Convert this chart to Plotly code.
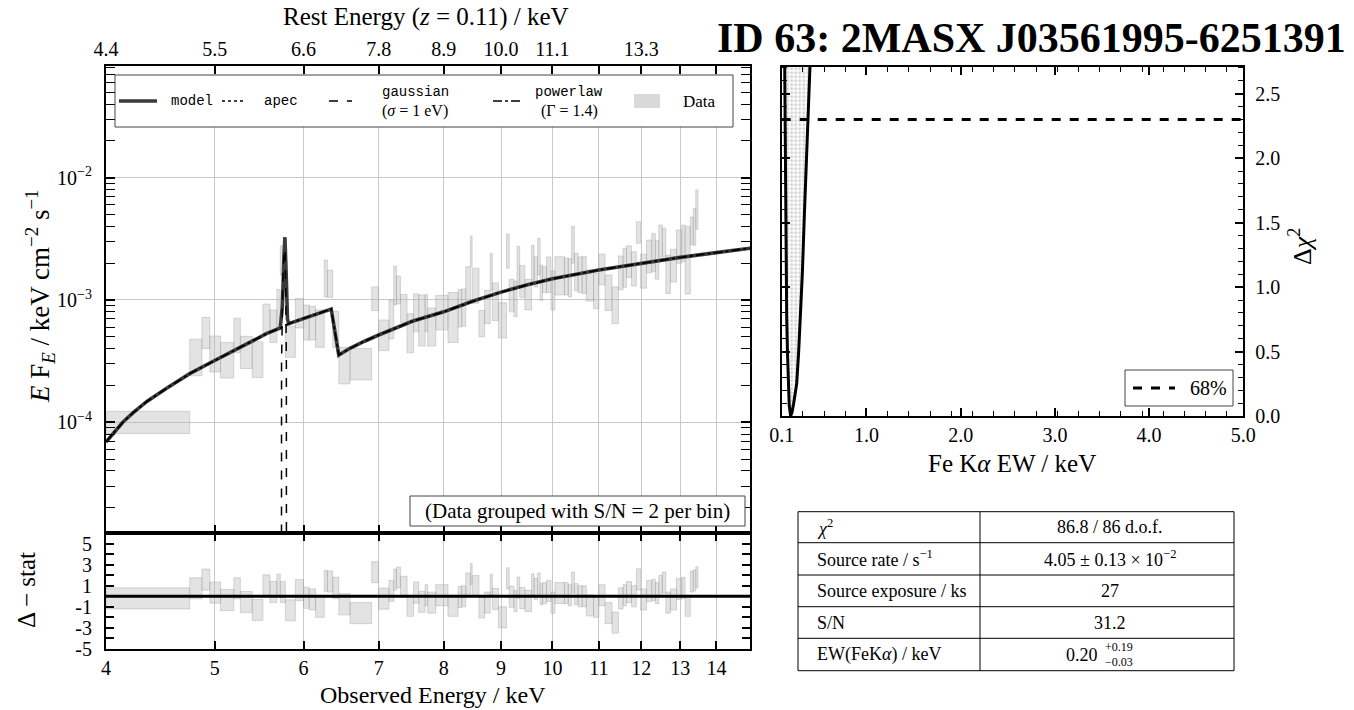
import math
import plotly.graph_objects as go

# ------------------------------------------------------------------ data
bin_edges = [4.0, 4.75, 4.87, 4.95, 5.06, 5.2, 5.27, 5.4, 5.52, 5.6, 5.68, 5.72, 5.78, 5.9, 6.0,
             6.07, 6.15, 6.26, 6.3, 6.37, 6.45, 6.6, 6.9, 7.0, 7.15, 7.22, 7.26, 7.32, 7.42, 7.52,
             7.6, 7.7, 7.74, 7.87, 8.07, 8.24, 8.3, 8.37, 8.45, 8.48, 8.6, 8.7, 8.8, 8.84, 8.95,
             9.1, 9.15, 9.24, 9.3, 9.35, 9.45, 9.58, 9.63, 9.7, 9.75, 9.8, 9.88, 9.97, 10.05, 10.25,
             10.33, 10.4, 10.46, 10.54, 10.63, 10.72, 10.88, 11.0, 11.14, 11.3, 11.45, 11.56, 11.64,
             11.76, 11.88, 11.98, 12.13, 12.26, 12.35, 12.44, 12.53, 12.62, 12.74, 12.9, 13.04,
             13.13, 13.27, 13.35, 13.42, 13.48]

flux = [1.02e-4, 3.59e-4, 5.6e-4, 3.83e-4, 3.4e-4, 5.4e-4, 3.9e-4, 3.44e-4, 7.34e-4, 6.4e-4,
        9.1e-4, 2.18e-3, 4.77e-4, 8.1e-4, 6.9e-4, 6.8e-4, 6.2e-4, 1.59e-3, 1.4e-3, 6.1e-4,
        3.08e-4, 3.12e-4, 1.05e-3, 5.36e-4, 7.4e-4, 1.4e-3, 1.25e-3, 8.8e-4, 5.7e-4, 8.35e-4,
        7.6e-4, 8.3e-4, 6.4e-4, 8.3e-4, 8.0e-4, 9.1e-4, 9.2e-4, 1.42e-3, 2.6e-3, 1.38e-3,
        6.6e-4, 9.2e-4, 1.8e-3, 1.03e-3, 7.2e-4, 2.64e-3, 1.14e-3, 1.08e-3, 2.03e-3, 1.48e-3,
        1.15e-3, 2.1e-3, 1.77e-3, 2.4e-3, 1.46e-3, 1.51e-3, 1.7e-3, 1.28e-3, 1.68e-3, 1.65e-3,
        1.62e-3, 3.0e-3, 1.8e-3, 1.7e-3, 1.7e-3, 1.37e-3, 1.25e-3, 1.85e-3, 1.21e-3, 9.6e-4,
        1.75e-3, 1.96e-3, 2.15e-3, 1.89e-3, 3.64e-3, 1.81e-3, 2.38e-3, 2.6e-3, 2.28e-3, 3.1e-3,
        3.06e-3, 1.73e-3, 2.0e-3, 2.87e-3, 3.08e-3, 2.55e-3, 3.8e-3, 4.2e-3, 5.86e-3]

flux_err = [2.1e-5, 1.19e-4, 1.6e-4, 1.25e-4, 1.1e-4, 1.7e-4, 1.15e-4, 1.12e-4, 1.93e-4, 1.9e-4,
            3.1e-4, 5.9e-4, 1.37e-4, 2.2e-4, 2.2e-4, 2.1e-4, 2.1e-4, 5.3e-4, 3.5e-4, 2.0e-4,
            1.02e-4, 9.0e-5, 2.3e-4, 1.5e-4, 2.6e-4, 4.9e-4, 3.2e-4, 2.3e-4, 2.0e-4, 2.85e-4,
            3.4e-4, 2.8e-4, 2.2e-4, 2.6e-4, 3.5e-4, 3.1e-4, 3.1e-4, 4.5e-4, 7.3e-4, 4.4e-4,
            1.6e-4, 2.8e-4, 6.0e-4, 3.5e-4, 2.3e-4, 8.2e-4, 3.4e-4, 3.5e-4, 7.2e-4, 4.3e-4,
            3.2e-4, 7.0e-4, 4.9e-4, 8.0e-4, 4.7e-4, 3.6e-4, 5.5e-4, 4.5e-4, 5.8e-4, 5.5e-4,
            5.6e-4, 1.0e-3, 6.1e-4, 5.5e-4, 5.7e-4, 3.9e-4, 4.0e-4, 5.2e-4, 3.9e-4, 3.2e-4,
            5.4e-4, 6.9e-4, 6.2e-4, 5.9e-4, 7.3e-4, 5.6e-4, 7.1e-4, 9.0e-4, 8.0e-4, 1.0e-3,
            8.0e-4, 6.0e-4, 6.0e-4, 8.7e-4, 1.02e-3, 1.43e-3, 9.7e-4, 1.4e-3, 2.08e-3]

resid = [-0.2, 0.76, 1.58, 0.35, -0.35, 0.76, -0.55, -1.29, 1.03, 0.4,
         1.1, 0.41, -1.33, 0.58, -0.14, -0.3, -1.0, 1.46, 1.4, 0.8,
         -0.76, -1.6, 2.28, -0.22, 0.5, 1.58, 1.78, 0.9, -0.9, 0.35,
         -0.52, 0.1, -0.6, 0.1, -0.9, -0.06, 0.0, 1.21, 2.1, 0.96,
         -1.07, -0.6, 1.1, -0.25, -2.0, 1.7, -0.05, -0.44, 0.82, -0.16,
         -0.44, 1.14, 0.7, 1.2, 0.2, 0.3, 0.5, -0.6, 0.3, 0.3,
         0.1, 1.3, 0.2, 0.0, 0.0, -0.87, -1.0, 0.1, -1.6, -2.5,
         -0.2, 0.1, 0.4, 0.0, 1.6, -0.3, 0.5, 0.6, 0.3, 1.0,
         1.3, -0.6, -0.3, 0.7, 0.8, -0.9, 1.4, 1.5, 1.8]
resid_halfwidth = 1.0

model_energy = [4.0, 4.07, 4.14, 4.23, 4.35, 4.53, 4.75, 5.0, 5.26, 5.56, 5.72, 5.745, 5.765,
                5.775, 5.79, 5.805, 5.82, 6.0, 6.2, 6.35, 6.45, 6.6, 6.8, 7.0, 7.5, 8.0, 8.5,
                9.0, 9.5, 10.0, 11.0, 12.0, 13.0, 14.0, 15.0]
model_flux = [6.9e-5, 8.4e-5, 1.0e-4, 1.2e-4, 1.48e-4, 1.9e-4, 2.5e-4, 3.2e-4, 4.1e-4, 5.3e-4,
              5.9e-4, 9.0e-4, 2.4e-3, 3.26e-3, 1.6e-3, 7.0e-4, 6.4e-4, 7.08e-4, 7.8e-4, 8.43e-4,
              3.55e-4, 4.03e-4, 4.6e-4, 5.17e-4, 6.7e-4, 8.0e-4, 9.8e-4, 1.16e-3, 1.33e-3,
              1.49e-3, 1.76e-3, 2.0e-3, 2.23e-3, 2.44e-3, 2.65e-3]

powerlaw_energy = [4.0, 4.07, 4.14, 4.23, 4.35, 4.53, 4.75, 5.0, 5.26, 5.56, 5.72, 5.82, 6.0,
                   6.2, 6.35, 6.45, 6.6, 6.8, 7.0, 7.5, 8.0, 8.5, 9.0, 9.5, 10.0, 11.0, 12.0,
                   13.0, 14.0, 15.0]
powerlaw_flux = [6.9e-5, 8.4e-5, 1.0e-4, 1.2e-4, 1.48e-4, 1.9e-4, 2.5e-4, 3.2e-4, 4.1e-4, 5.3e-4,
                 5.9e-4, 6.4e-4, 7.08e-4, 7.8e-4, 8.43e-4, 3.55e-4, 4.03e-4, 4.6e-4, 5.17e-4,
                 6.7e-4, 8.0e-4, 9.8e-4, 1.16e-3, 1.33e-3, 1.49e-3, 1.76e-3, 2.0e-3, 2.23e-3,
                 2.44e-3, 2.65e-3]

gauss_energy = [5.733, 5.735, 5.75, 5.765, 5.775, 5.785, 5.792, 5.794]
gauss_flux = [1e-8, 3.0e-4, 1.4e-3, 2.6e-3, 2.6e-3, 1.2e-3, 3.0e-4, 1e-8]

obs_ticks = [4, 5, 6, 7, 8, 9, 10, 11, 12, 13, 14]
obs_tick_labels = ["4", "5", "6", "7", "8", "9", "10", "11", "12", "13", "14"]
rest_ticks = [4, 5, 6, 7, 8, 9, 10, 12]
rest_tick_labels = ["4.4", "5.5", "6.6", "7.8", "8.9", "10.0", "11.1", "13.3"]
rest_unlabelled_ticks = [11, 13, 14]
flux_ticks = [1e-4, 1e-3, 1e-2]
flux_tick_labels = ["10<sup>\u22124</sup>", "10<sup>\u22123</sup>", "10<sup>\u22122</sup>"]
resid_ticks = [-5, -3, -1, 1, 3, 5]
resid_minor = [-4, -2, 0, 2, 4]

ew_scan = [0.132, 0.135, 0.139, 0.142, 0.147, 0.153, 0.161, 0.17, 0.18, 0.195, 0.21,
           0.225, 0.24, 0.259, 0.28, 0.30, 0.32, 0.34, 0.36, 0.383, 0.40]
dchi2 = [2.71, 2.3, 1.9, 1.55, 1.15, 0.77, 0.5, 0.25, 0.08, 0.0, 0.03,
         0.09, 0.16, 0.25, 0.5, 0.77, 1.12, 1.55, 1.9, 2.3, 2.71]
conf68 = 2.3
ew_ticks = [0.1, 1, 2, 3, 4, 5]
ew_tick_labels = ["0.1", "1.0", "2.0", "3.0", "4.0", "5.0"]
dchi2_ticks = [0, 0.5, 1.0, 1.5, 2.0, 2.5]
dchi2_tick_labels = ["0.0", "0.5", "1.0", "1.5", "2.0", "2.5"]

table_labels = ["<i>\u03c7</i><sup>2</sup>", "Source rate / s<sup>\u22121</sup>",
                "Source exposure / ks", "S/N", "EW(FeK<i>\u03b1</i>) / keV"]
table_values = ["86.8 / 86 d.o.f.", "4.05 \u00b1 0.13 \u00d7 10<sup>\u22122</sup>", "27", "31.2", "0.20"]
ew_err_up, ew_err_lo = "+0.19", "\u22120.03"

# ------------------------------------------------------------------ geometry helpers
FW, FH = 1354, 710
SERIF = "Liberation Serif"
MONO = "Liberation Mono"


def px(x):
    return x / FW


def py(y):
    return 1 - y / FH


fig = go.Figure()

# data boxes
bx, by = [], []
for lo, hi, f, e in zip(bin_edges[:-1], bin_edges[1:], flux, flux_err):
    bx += [lo, hi, hi, lo, lo, None]
    by += [f - e, f - e, f + e, f + e, f - e, None]
fig.add_trace(go.Scatter(x=bx, y=by, mode="lines", fill="toself",
                         fillcolor="rgba(185,185,185,0.40)",
                         line=dict(color="rgba(160,160,160,0.40)", width=1),
                         xaxis="x", yaxis="y", hoverinfo="skip", showlegend=False))

fig.add_trace(go.Scatter(x=model_energy, y=model_flux, mode="lines",
                         line=dict(color="#3a3a3a", width=3.6),
                         xaxis="x", yaxis="y", showlegend=False))
fig.add_trace(go.Scatter(x=powerlaw_energy, y=powerlaw_flux, mode="lines",
                         line=dict(color="black", width=1.8, dash="dashdot"),
                         xaxis="x", yaxis="y", showlegend=False))
fig.add_trace(go.Scatter(x=gauss_energy, y=gauss_flux, mode="lines",
                         line=dict(color="black", width=1.5, dash="dash"),
                         xaxis="x", yaxis="y", showlegend=False))
# top axis carrier
fig.add_trace(go.Scatter(x=[obs_ticks[0]], y=[flux_ticks[1]], mode="markers",
                         marker=dict(opacity=0), xaxis="x3", yaxis="y",
                         hoverinfo="skip", showlegend=False))

# residual boxes
rx, ry = [], []
for lo, hi, r in zip(bin_edges[:-1], bin_edges[1:], resid):
    rx += [lo, hi, hi, lo, lo, None]
    ry += [r - resid_halfwidth, r - resid_halfwidth, r + resid_halfwidth,
           r + resid_halfwidth, r - resid_halfwidth, None]
fig.add_trace(go.Scatter(x=rx, y=ry, mode="lines", fill="toself",
                         fillcolor="rgba(185,185,185,0.40)",
                         line=dict(color="rgba(160,160,160,0.40)", width=1),
                         xaxis="x2", yaxis="y2", hoverinfo="skip", showlegend=False))

# chi2 scan
fig.add_trace(go.Scatter(x=ew_scan, y=dchi2, mode="lines", fill="toself",
                         fillcolor="rgba(0,0,0,0)",
                         fillpattern=dict(shape=".", fgcolor="#a0a0a0", bgcolor="white",
                                          size=4, solidity=0.4),
                         line=dict(width=0), xaxis="x4", yaxis="y4",
                         hoverinfo="skip", showlegend=False))
fig.add_trace(go.Scatter(x=ew_scan, y=dchi2, mode="lines",
                         line=dict(color="black", width=3),
                         xaxis="x4", yaxis="y4", showlegend=False))

# ------------------------------------------------------------------ axes
tickfont = dict(family=SERIF, size=20, color="black")
common = dict(showline=True, linecolor="black", linewidth=2, ticks="inside",
              tickcolor="black", tickwidth=1.5, zeroline=False, tickfont=tickfont,
              automargin=False)
xr = [math.log10(obs_ticks[0]), math.log10(15)]
minor_flux = [m * 10 ** k for k in (-5, -4, -3, -2) for m in range(2, 10)]
ew_minor = [round(0.1 + 0.225 * k, 3) for k in range(1, 22)]
dchi2_minor = [round(0.1 * k, 2) for k in range(0, 28)]

layout = dict(
    width=FW, height=FH, margin=dict(l=0, r=0, t=0, b=0, pad=0, autoexpand=False),
    paper_bgcolor="white", plot_bgcolor="white", showlegend=False,
    xaxis=dict(type="log", range=xr, domain=[px(106), px(750)], anchor="y",
               tickmode="array", tickvals=obs_ticks[1:], showticklabels=False, ticklen=8,
               showgrid=True, gridcolor="#c8c8c8", gridwidth=1, **common),
    xaxis3=dict(type="log", range=xr, overlaying="x", anchor="y", side="top",
                tickmode="array", tickvals=rest_ticks, ticktext=rest_tick_labels, ticklen=8,
                showgrid=False, ticklabelstandoff=0,
                minor=dict(tickmode="array", tickvals=rest_unlabelled_ticks, ticks="inside",
                           ticklen=8, tickcolor="black", tickwidth=1.5, showgrid=False),
                **common),
    yaxis=dict(type="log", range=[-4.905, -1.087], domain=[py(533), py(66)], anchor="x",
               tickmode="array", tickvals=flux_ticks, ticktext=flux_tick_labels, ticklen=9,
               mirror="allticks", showgrid=True, gridcolor="#c8c8c8", gridwidth=1,
               ticklabelstandoff=8,
               minor=dict(tickmode="array", tickvals=minor_flux, ticks="inside", ticklen=5,
                          tickcolor="black", tickwidth=1.2, showgrid=False),
               **common),
    xaxis2=dict(type="log", range=xr, domain=[px(106), px(750)], anchor="y2",
                tickmode="array", tickvals=obs_ticks, ticktext=obs_tick_labels, ticklen=8,
                mirror="allticks", showgrid=True, gridcolor="#c8c8c8", gridwidth=1,
                ticklabelstandoff=0, **common),
    yaxis2=dict(range=[-5, 6], domain=[py(649), py(533)], anchor="x2",
                tickmode="array", tickvals=resid_ticks,
                ticktext=[str(v) for v in resid_ticks], ticklen=8, mirror="allticks",
                showgrid=False, ticklabelstandoff=8,
                minor=dict(tickmode="array", tickvals=resid_minor, ticks="inside", ticklen=8,
                           tickcolor="black", tickwidth=1.5, showgrid=False),
                **common),
    xaxis4=dict(range=[ew_ticks[0], ew_ticks[-1]], domain=[px(781.7), px(1243.3)], anchor="y4",
                tickmode="array", tickvals=ew_ticks, ticktext=ew_tick_labels, ticklen=8,
                mirror="allticks", showgrid=False, ticklabelstandoff=0,
                minor=dict(tickmode="array", tickvals=ew_minor, ticks="inside", ticklen=5,
                           tickcolor="black", tickwidth=1.2),
                **common),
    yaxis4=dict(range=[0, 2.71], domain=[py(416), py(66.7)], anchor="x4", side="right",
                tickmode="array", tickvals=dchi2_ticks, ticktext=dchi2_tick_labels, ticklen=8,
                mirror="allticks", showgrid=False, ticklabelstandoff=6,
                minor=dict(tickmode="array", tickvals=dchi2_minor, ticks="inside", ticklen=5,
                           tickcolor="black", tickwidth=1.2),
                **common),
)

shapes = []
annotations = []


def ann(text, x, y, size, family=SERIF, xanchor="center", yanchor="middle", angle=0):
    annotations.append(dict(text=text, x=px(x), y=py(y), xref="paper", yref="paper",
                            showarrow=False, xanchor=xanchor, yanchor=yanchor,
                            textangle=angle, font=dict(family=family, size=size, color="black")))


def rect(x0, y0, x1, y1, color="#444", width=1, fill="white"):
    shapes.append(dict(type="rect", xref="paper", yref="paper", x0=px(x0), x1=px(x1),
                       y0=py(y1), y1=py(y0), line=dict(color=color, width=width),
                       fillcolor=fill, layer="above"))


def seg(x0, x1, y0, y1, color="black", width=1, dash="solid"):
    shapes.append(dict(type="line", xref="paper", yref="paper", x0=px(x0), x1=px(x1),
                       y0=py(y0), y1=py(y1), line=dict(color=color, width=width, dash=dash),
                       layer="above"))


# residual zero line and 68% level
shapes.append(dict(type="line", xref="x2 domain", yref="y2", x0=0, x1=1, y0=0, y1=0,
                   line=dict(color="black", width=3), layer="above"))
shapes.append(dict(type="line", xref="x4 domain", yref="y4", x0=0, x1=1, y0=conf68, y1=conf68,
                   line=dict(color="black", width=3, dash="dash"), layer="above"))

# main legend
rect(115, 75, 733, 127)
seg(119, 157, 101, 101, "#3a3a3a", 3.6)
ann("model", 169, 101, 14, MONO, xanchor="left")
seg(222, 245, 101, 101, "black", 1.3, "dot")
ann("apec", 262, 101, 14, MONO, xanchor="left")
seg(329, 352, 101, 101, "black", 1.5, "dash")
ann("gaussian", 415, 92, 14, MONO)
ann("(<i>\u03c3</i> = 1 eV)", 415, 111, 16)
seg(493, 521, 101, 101, "black", 1.5, "dashdot")
ann("powerlaw", 569, 92, 14, MONO)
ann("(\u0393 = 1.4)", 569, 111, 16)
rect(634, 94, 660, 108, color="rgba(0,0,0,0)", width=0, fill="#d9d9d9")
ann("Data", 681, 101, 17, xanchor="left")

# grouping note
rect(410, 496, 745, 526)
ann("(Data grouped with S/N = 2 per bin)", 577.5, 511, 21)

# 68% legend
rect(1125, 370, 1233, 406)
seg(1133, 1175, 388, 388, "black", 3, "dash")
ann("68%", 1188, 388, 20, xanchor="left")

# table
row_edges = [511.7, 542.7, 575, 606.7, 638.3, 670.7]
for yy in row_edges:
    seg(798, 1234, yy, yy, "black", 1)
for xx in (798, 980, 1234):
    seg(xx, xx, row_edges[0], row_edges[-1], "black", 1)
for i, (lab, val) in enumerate(zip(table_labels, table_values)):
    yc = (row_edges[i] + row_edges[i + 1]) / 2
    ann(lab, 815, yc, 18, xanchor="left")
    if i < len(table_values) - 1:
        ann(val, 1110, yc, 18)
    else:
        ann(val, 1100, yc + 0.5, 18, xanchor="right")
        ann(ew_err_up, 1103, yc - 8, 12, xanchor="left")
        ann(ew_err_lo, 1103, yc + 7, 12, xanchor="left")

# titles
ann("<b>ID 63: 2MASX J03561995-6251391</b>", 1031, 38, 42)
ann("Rest Energy (<i>z</i> = 0.11) / keV", 426, 17, 25)
ann("Observed Energy / keV", 433, 695, 24)
ann("<i>E</i> F<sub><i>E</i></sub> / keV cm<sup>\u22122</sup> s<sup>\u22121</sup>", 40, 296, 27, angle=-90)
ann("\u0394 \u2212 stat", 26, 590, 25, angle=-90)
ann("Fe K<i>\u03b1</i> EW / keV", 1012, 463, 25)
ann("\u0394<i>\u03c7</i><sup>2</sup>", 1300, 247, 26, angle=-90)

layout["shapes"] = shapes
layout["annotations"] = annotations
fig.update_layout(**layout)

fig.write_html("out.html", config={"displayModeBar": False},
               post_script="document.body.style.margin='0px';document.body.style.overflow='hidden';")
